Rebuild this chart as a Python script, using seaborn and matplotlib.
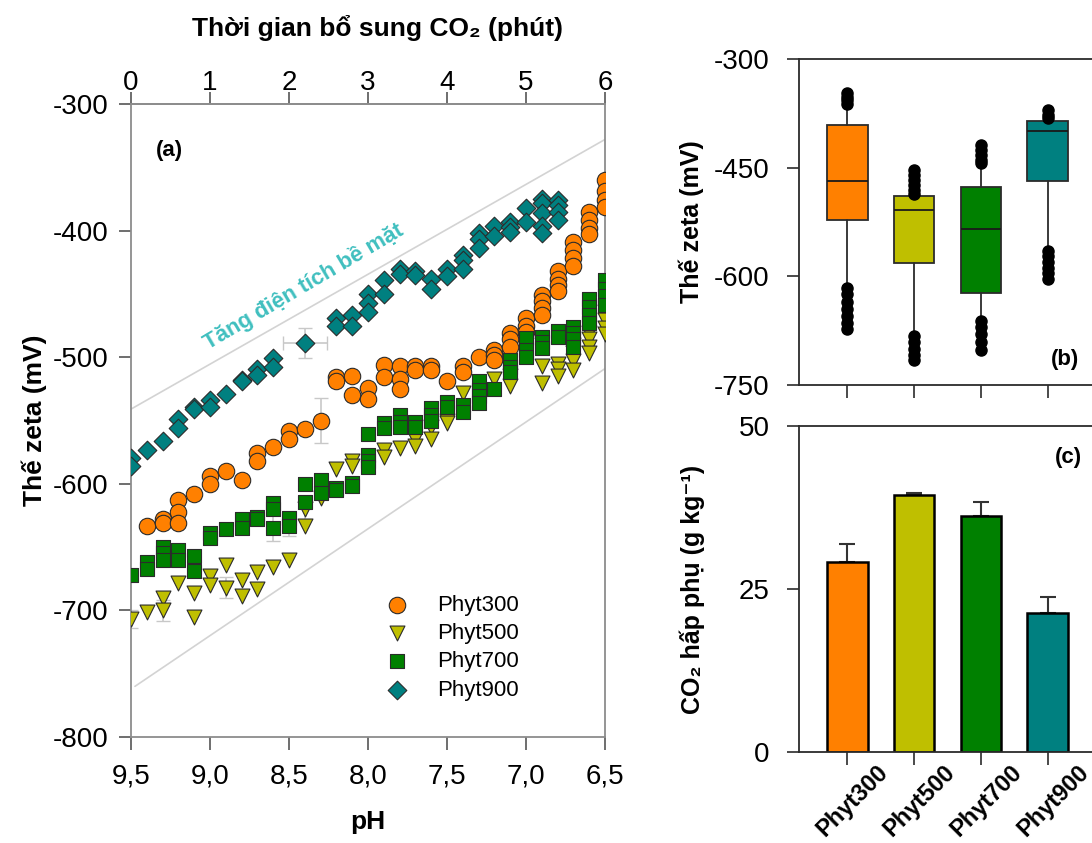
import numpy as np
import pandas as pd
import matplotlib
matplotlib.use("Agg")
import matplotlib.pyplot as plt
import matplotlib.transforms as mtransforms
import seaborn as sns
from matplotlib.ticker import FuncFormatter

# ---------------- data: panel (a) ----------------
ph300 = [9.4, 9.3, 9.2, 9.1, 9.0, 8.9, 8.8, 8.7, 8.6, 8.5, 8.4, 8.3, 8.2, 8.1, 8.0,
         7.9, 7.8, 7.7, 7.6, 7.5, 7.4, 7.3, 7.2, 7.1, 7.0, 6.9, 6.8, 6.7, 6.6, 6.5]
z300 = [[-633], [-628, -631], [-613, -622, -631], [-608], [-594, -600], [-590], [-597],
        [-576, -582], [-571], [-558, -565], [-557], [-550], [-516, -519], [-515, -530],
        [-524, -533], [-506, -516], [-507, -517, -525], [-507, -510], [-507, -510], [-519],
        [-507, -512], [-500], [-494, -498, -502], [-481, -486, -492], [-469, -475, -480],
        [-451, -456, -461, -467], [-432, -438, -443, -448], [-409, -415, -422, -428],
        [-385, -392, -398, -403], [-360, -369, -376, -381]]

ph500 = [9.5, 9.4, 9.3, 9.2, 9.1, 9.0, 8.9, 8.8, 8.7, 8.6, 8.5, 8.4, 8.3, 8.2, 8.1,
         7.9, 7.8, 7.7, 7.6, 7.5, 7.4, 7.2, 7.1, 7.0, 6.9, 6.8, 6.7, 6.6, 6.5]
z500 = [[-707], [-701], [-690, -700], [-678], [-686, -705], [-673, -680], [-664, -682],
        [-676, -689], [-670, -683], [-666], [-660], [-620, -633], [-611], [-588], [-582, -586],
        [-573, -579], [-572], [-565, -570], [-555, -565], [-550, -552], [-528], [-517],
        [-515, -523], [-486, -490], [-507, -520], [-505, -509, -515], [-490, -497, -503, -510],
        [-481, -486, -492, -497], [-464, -471, -477, -482]]

ph700 = [9.5, 9.4, 9.3, 9.2, 9.1, 9.0, 8.9, 8.8, 8.7, 8.6, 8.5, 8.4, 8.3, 8.2, 8.1, 8.0,
         7.9, 7.8, 7.7, 7.6, 7.5, 7.4, 7.3, 7.2, 7.1, 7.0, 6.9, 6.8, 6.7, 6.6, 6.5]
z700 = [[-672], [-662, -667], [-650, -655, -660], [-652, -660], [-657, -669], [-639, -643],
        [-636], [-628, -635], [-626, -628], [-615, -620, -635], [-627, -633], [-600, -614],
        [-597, -607], [-603, -605], [-599, -602], [-561, -577, -582, -587], [-552, -556],
        [-546, -551, -555], [-551, -555], [-540, -546, -550], [-535, -539], [-538, -543],
        [-519, -526, -531, -536], [-525], [-502, -508, -512], [-485, -494, -500],
        [-484, -488, -493], [-479, -484], [-476, -481, -486, -492], [-454, -460, -467, -473],
        [-439, -446, -452, -459]]

ph900 = [9.5, 9.4, 9.3, 9.2, 9.1, 9.0, 8.9, 8.8, 8.7, 8.6, 8.4, 8.2, 8.1, 8.0,
         7.9, 7.8, 7.7, 7.6, 7.5, 7.4, 7.3, 7.2, 7.1, 7.0, 6.9, 6.8]
z900 = [[-580, -586], [-573], [-566], [-549, -556], [-539, -541], [-534, -539], [-529],
        [-518, -519], [-509, -514], [-501, -508], [-489], [-469, -475], [-467, -475],
        [-450, -457, -464], [-439, -450], [-430, -434], [-432, -435], [-438, -446],
        [-430, -436], [-419, -423, -430], [-402, -407, -414], [-396, -404], [-393, -397, -401],
        [-382, -393], [-375, -378, -386, -396, -402], [-376, -380, -385, -392]]

# selected error bars (pH, zeta, x-error, y-error)
err_ph = [8.4, 8.3, 8.6, 8.9, 9.5, 9.3, 8.4, 9.2, 8.5]
err_zeta = [-489, -550, -635, -682, -707, -700, -620, -622, -633]
err_xerr = [0.14, 0.0, 0.0, 0.0, 0.0, 0.0, 0.0, 0.0, 0.0]
err_yerr = [12, 18, 10, 8, 7, 8, 8, 8, 8]

# guide lines (pH, zeta)
upper_line_ph = [9.5, 6.5]
upper_line_z = [-541, -328]
lower_line_ph = [9.475, 6.5]
lower_line_z = [-760, -509]

# ---------------- data: panel (b) ----------------
samples = ["Phyt300", "Phyt500", "Phyt700", "Phyt900"]
box_q1 = [-522, -582, -623, -468]
box_med = [-468, -508, -535, -400]
box_q3 = [-391, -489, -476, -386]
box_whislo = [-614, -681, -663, -564]
box_whishi = [-361, -485, -442, -382]
box_fliers = [[-347, -352, -357, -362, -616, -625, -635, -645, -655, -665, -673],
              [-453, -460, -467, -474, -481, -486, -682, -690, -700, -708, -716],
              [-419, -425, -432, -439, -444, -662, -670, -680, -690, -702],
              [-371, -377, -381, -565, -572, -580, -588, -596, -603]]

# ---------------- data: panel (c) ----------------
co2_vals = [29.2, 39.4, 36.2, 21.3]
co2_err = [2.7, 0.4, 2.1, 2.4]

colors = ["#FF8000", "#BFBF00", "#008000", "#008080"]
markers = ["o", "v", "s", "D"]
msizes = [140, 115, 100, 90]

# ---------------- style ----------------
sns.set_theme(style="ticks")
plt.rcParams["font.family"] = ["Liberation Sans", "DejaVu Sans"]
plt.rcParams["axes.unicode_minus"] = False
plt.rcParams["text.color"] = "black"
plt.rcParams["axes.labelcolor"] = "black"

fig = plt.figure(figsize=(10.92, 8.43), dpi=100)
axA = fig.add_axes([0.11996, 0.12574, 0.43407, 0.75089])
axB = fig.add_axes([0.73168, 0.54330, 0.27198, 0.38671])
axC = fig.add_axes([0.73168, 0.10795, 0.27198, 0.38671])

# ---------------- panel (a) ----------------
axA.plot(upper_line_ph, upper_line_z, color="#d3d3d3", lw=1.2, zorder=1)
axA.plot(lower_line_ph, lower_line_z, color="#d3d3d3", lw=1.2, zorder=1)
axA.errorbar(err_ph, err_zeta, xerr=err_xerr, yerr=err_yerr, fmt="none",
             ecolor="#c8c8c8", elinewidth=1.2, capsize=5, zorder=2)

series = [(ph300, z300), (ph500, z500), (ph700, z700), (ph900, z900)]
for (ph, zz), name, c, m, s in zip(series, samples, colors, markers, msizes):
    xs, ys = [], []
    for p, reps in zip(ph, zz):
        for v in reps:
            xs.append(p)
            ys.append(v)
    df = pd.DataFrame({"pH": xs, "zeta": ys})
    sns.scatterplot(data=df, x="pH", y="zeta", ax=axA, marker=m, s=s, color=c,
                    edgecolor="#2b2b2b", linewidth=0.8, label=name, zorder=3)

axA.set_xlim(9.5, 6.5)
axA.set_ylim(-800, -300)
axA.set_xticks([9.5, 9.0, 8.5, 8.0, 7.5, 7.0, 6.5])
axA.set_yticks([-300, -400, -500, -600, -700, -800])
axA.xaxis.set_major_formatter(FuncFormatter(lambda v, p: f"{v:.1f}".replace(".", ",")))
axA.yaxis.set_major_formatter(FuncFormatter(lambda v, p: f"{int(v)}"))
for sp in axA.spines.values():
    sp.set_color("#8c8c8c")
    sp.set_linewidth(1.3)
axA.tick_params(axis="both", direction="out", length=9, width=1.2, color="#555555",
                labelcolor="black", labelsize=20, pad=7)
axA.tick_params(axis="x", pad=10)
axA.set_xlabel("pH", fontsize=19, fontweight="bold")
axA.xaxis.set_label_coords(0.5, -0.116)
axA.set_ylabel("Thế zeta (mV)", fontsize=19, fontweight="bold")
axA.yaxis.set_label_coords(-0.178, 0.5)

top = axA.secondary_xaxis("top", functions=(lambda p: (9.5 - p) * 2, lambda t: 9.5 - t / 2))
top.set_xticks([0, 1, 2, 3, 4, 5, 6])
top.tick_params(axis="x", direction="out", length=9, width=1.2, color="#555555",
                labelcolor="black", labelsize=20, pad=-3)
top.spines["top"].set_color("#8c8c8c")
top.spines["top"].set_linewidth(1.3)
fig.text(377 / 1092, 1 - 28 / 843, "Thời gian bổ sung CO₂ (phút)", fontsize=19,
         fontweight="bold", ha="center", va="center")

axA.text(0.082, 0.927, "(a)", transform=axA.transAxes, fontsize=16, fontweight="bold",
         ha="center", va="center")
axA.text(8.41, -444, "Tăng điện tích bề mặt", color="#40BFBF", fontsize=16,
         fontweight="bold", rotation=30.5, rotation_mode="anchor", ha="center", va="center")

h, l = axA.get_legend_handles_labels()
axA.legend(h, l, loc="upper left", bbox_to_anchor=(0.515, 0.225), frameon=False,
           fontsize=16, labelspacing=0.33, handletextpad=0.8, borderaxespad=0, borderpad=0)

# ---------------- panel (b) ----------------
stats = []
for i in range(4):
    stats.append(dict(label=samples[i], q1=box_q1[i], med=box_med[i], q3=box_q3[i],
                      whislo=box_whislo[i], whishi=box_whishi[i], fliers=box_fliers[i]))
bp = axB.bxp(stats, positions=[0, 1, 2, 3], widths=0.61, patch_artist=True,
             showcaps=True, capwidths=0.12,
             boxprops=dict(edgecolor="#2b2b2b", linewidth=1.3),
             medianprops=dict(color="#1a1a1a", linewidth=1.3),
             whiskerprops=dict(color="#2b2b2b", linewidth=1.3),
             capprops=dict(color="#2b2b2b", linewidth=1.3),
             flierprops=dict(marker="o", markerfacecolor="black", markeredgecolor="black",
                             markersize=8))
for patch, c in zip(bp["boxes"], colors):
    patch.set_facecolor(c)
axB.set_xlim(-0.72, 3.72)
axB.set_ylim(-750, -300)
axB.set_yticks([-300, -450, -600, -750])
axB.set_xticks([0, 1, 2, 3])
axB.set_xticklabels([])
axB.set_ylabel("Thế zeta (mV)", fontsize=18, fontweight="bold")
axB.yaxis.set_label_coords(-0.32, 0.5)
axB.text(0.896, 0.077, "(b)", transform=axB.transAxes, fontsize=16, fontweight="bold",
         ha="center", va="center")

# ---------------- panel (c) ----------------
dfc = pd.DataFrame({"sample": samples, "co2": co2_vals})
sns.barplot(data=dfc, x="sample", y="co2", hue="sample", palette=colors, ax=axC,
            width=0.61, edgecolor="black", linewidth=1.8, legend=False,
            errorbar=None, saturation=1)
axC.errorbar(x=np.arange(4), y=co2_vals, yerr=[np.zeros(4), co2_err], fmt="none",
             ecolor="#333333", elinewidth=1.5, capsize=6, capthick=1.5, zorder=0)
axC.set_xlim(-0.72, 3.72)
axC.set_ylim(0, 50)
axC.set_yticks([0, 25, 50])
axC.set_xticks([0, 1, 2, 3])
axC.set_xticklabels([])
axC.set_xlabel("")
axC.set_ylabel("CO₂ hấp phụ (g kg⁻¹)", fontsize=18, fontweight="bold")
axC.yaxis.set_label_coords(-0.316, 0.5)
axC.text(0.906, 0.902, "(c)", transform=axC.transAxes, fontsize=16, fontweight="bold",
         ha="center", va="center")
lab_tr = axC.get_xaxis_transform() + mtransforms.ScaledTranslation(0.29, -0.09,
                                                                    fig.dpi_scale_trans)
for i, name in enumerate(samples):
    axC.text(i, 0, name, transform=lab_tr, rotation=45, rotation_mode="anchor",
             ha="right", va="top", fontsize=17, fontweight="bold")

for ax in (axB, axC):
    for sp in ax.spines.values():
        sp.set_color("#2b2b2b")
        sp.set_linewidth(1.3)
    ax.tick_params(axis="both", direction="out", length=9, width=1.2, color="#2b2b2b",
                   labelcolor="black")
    ax.tick_params(axis="y", labelsize=20, pad=12)

fig.savefig("out.png", dpi=100)
